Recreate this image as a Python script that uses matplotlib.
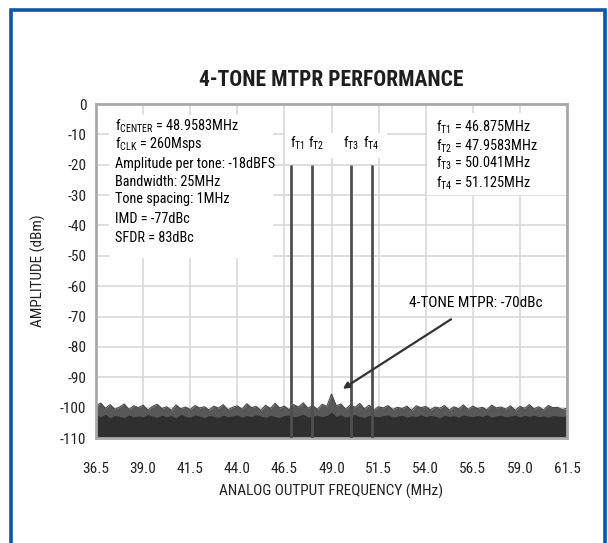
import numpy as np
import matplotlib
matplotlib.use("Agg")
import matplotlib.pyplot as plt
from matplotlib.patches import Rectangle
from matplotlib import font_manager

# ---------------- data ----------------
tone_freqs = [46.875, 47.9583, 50.041, 51.125]      # MHz
tone_levels = [-20, -20, -20, -20]                  # dBm
tone_names = ["T1", "T2", "T3", "T4"]

noise_start = 36.5
noise_step = 0.25
noise_upper = [-99.5, -98.5, -100.2, -99.0, -100.5, -99.8, -98.8, -100.6, -99.4, -100.0,
               -99.2, -100.8, -99.6, -98.9, -100.3, -99.7, -100.9, -99.1, -100.4, -99.8,
               -100.6, -99.3, -100.1, -99.7, -100.8, -99.5, -100.2, -99.0, -100.7, -99.9,
               -99.4, -100.5, -98.7, -100.0, -99.6, -100.9, -99.2, -100.3, -98.6, -100.1,
               -99.5, -100.7, -99.0, -99.8, -98.4, -100.2, -99.3, -100.6, -98.9, -99.6,
               -95.5, -99.4, -98.8, -100.5, -99.1, -99.9, -98.6, -100.4, -99.2, -100.8,
               -99.7, -100.1, -99.3, -100.6, -99.9, -100.3, -99.5, -100.9, -99.4, -100.0,
               -99.6, -100.7, -99.8, -100.2, -99.3, -100.8, -99.7, -100.4, -99.1, -100.6,
               -99.5, -100.3, -99.9, -100.7, -99.2, -100.1, -99.8, -100.5, -99.4, -100.9,
               -99.6, -100.2, -99.0, -100.4, -99.7, -100.8, -99.3, -100.0, -99.9, -100.6, -100.2]
noise_core = [-102.5, -103.0, -102.2, -103.4, -102.6, -102.9, -103.3, -102.4, -103.1, -102.7,
              -103.0, -102.3, -102.8, -103.2, -102.5, -103.0, -102.6, -103.4, -102.2, -102.9,
              -103.1, -102.4, -102.8, -103.3, -102.6, -102.9, -103.2, -102.5, -103.0, -102.7,
              -102.4, -103.1, -102.6, -103.0, -102.3, -102.8, -103.2, -102.5, -102.9, -103.3,
              -102.6, -102.4, -103.0, -102.7, -102.2, -103.1, -102.8, -102.5, -103.0, -102.6,
              -101.5, -102.9, -102.4, -103.1, -102.7, -102.3, -102.9, -103.2, -102.5, -102.8,
              -103.0, -102.6, -102.4, -103.1, -102.8, -102.5, -103.2, -102.7, -102.9, -102.4,
              -103.0, -102.6, -102.8, -103.3, -102.5, -102.9, -102.7, -103.1, -102.4, -102.8,
              -103.0, -102.6, -102.9, -102.3, -103.2, -102.7, -102.5, -103.0, -102.8, -102.4,
              -103.1, -102.6, -102.9, -102.5, -103.0, -102.7, -103.2, -102.6, -102.8, -102.9, -102.7]

x_ticks = [36.5, 39.0, 41.5, 44.0, 46.5, 49.0, 51.5, 54.0, 56.5, 59.0, 61.5]
y_ticks = [0, -10, -20, -30, -40, -50, -60, -70, -80, -90, -100, -110]

info_lines = [r"f$_{\mathrm{CENTER}}$ = 48.9583MHz",
              r"f$_{\mathrm{CLK}}$ = 260Msps",
              "Amplitude per tone: -18dBFS",
              "Bandwidth: 25MHz",
              "Tone spacing: 1MHz",
              "IMD = -77dBc",
              "SFDR = 83dBc"]
tone_info = [r"f$_{\mathrm{T1}}$ = 46.875MHz",
             r"f$_{\mathrm{T2}}$ = 47.9583MHz",
             r"f$_{\mathrm{T3}}$ = 50.041MHz",
             r"f$_{\mathrm{T4}}$ = 51.125MHz"]

# ---------------- style ----------------
names = {f.name for f in font_manager.fontManager.ttflist}
candidates = ["Roboto Condensed", "Liberation Sans Narrow", "Arial Narrow",
              "Archivo Narrow", "PT Sans Narrow", "Pragati Narrow",
              "Fira Sans Condensed", "IBM Plex Sans Condensed",
              "Barlow Semi Condensed", "Encode Sans Condensed",
              "Asap Condensed", "Open Sans Condensed", "Roboto"]
narrow = next(c for c in candidates if c in names)
plt.rcParams["font.family"] = [narrow, "DejaVu Sans"]
plt.rcParams["mathtext.fontset"] = "custom"
plt.rcParams["mathtext.rm"] = narrow
plt.rcParams["mathtext.it"] = narrow
plt.rcParams["mathtext.bf"] = narrow + ":bold"

fig = plt.figure(figsize=(6.08, 5.43), dpi=100)
fig.patch.set_facecolor("white")

# blue frame
fig.patches.append(Rectangle((11 / 608, -0.05), (605 - 11) / 608, 1.05 - 10 / 543,
                             transform=fig.transFigure, fill=False,
                             edgecolor="#0a56a8", linewidth=2.6, clip_on=False))

ax = fig.add_axes([96 / 608, 1 - 438 / 543, (567 - 96) / 608, (438 - 104) / 543])
ax.set_xlim(36.5, 61.5)
ax.set_ylim(-110, 0)
ax.set_xticks(x_ticks)
ax.set_xticklabels([f"{v:.1f}" for v in x_ticks])
ax.set_yticks(y_ticks)
ax.set_yticklabels([f"{v}" for v in y_ticks])
ax.tick_params(length=0, labelsize=11, colors="#222222")
ax.tick_params(axis="x", pad=17)
ax.tick_params(axis="y", pad=7)
ax.grid(True, color="#d6d6d6", linewidth=1.1)
ax.set_axisbelow(True)
for s in ax.spines.values():
    s.set_color("#a8a8a8")
    s.set_linewidth(2.0)

# noise floor
freqs = noise_start + noise_step * np.arange(len(noise_upper))
ax.fill_between(freqs, -110, noise_upper, color="#585858", linewidth=0, zorder=2)
ax.plot(freqs, noise_upper, color="#484848", linewidth=0.8, zorder=2)
ax.fill_between(freqs, -110, noise_core, color="#2f2f2f", linewidth=0, zorder=2)

# tones
ax.vlines(tone_freqs, -110, tone_levels, color="#4f4f4f", linewidth=2.0, zorder=3)

# white boxes behind texts (axes-fraction layout)
box_kw = dict(facecolor="white", edgecolor="none", zorder=1.5, transform=ax.transAxes)
ax.add_patch(Rectangle(((109 - 96) / 471, 1 - (258 - 104) / 334), 164 / 471, 143 / 334, **box_kw))
ax.add_patch(Rectangle(((285 - 96) / 471, 1 - (158 - 104) / 334), 102 / 471, 25 / 334, **box_kw))
ax.add_patch(Rectangle(((427 - 96) / 471, 1 - (195 - 104) / 334), 140 / 471, 82 / 334, **box_kw))

fs = 10.3
info_y = [-8.6, -14.5, -21.1, -27.1, -32.7, -39.3, -45.6]
for t, yv in zip(info_lines, info_y):
    ax.text(37.5, yv, t, fontsize=fs, va="baseline", ha="left", zorder=4)

label_offsets = [0.3, 0.22, 0.0, 0.0]
for fq, off, nm in zip(tone_freqs, label_offsets, tone_names):
    ax.text(fq + off, -14.2, r"f$_{\mathrm{%s}}$" % nm, fontsize=fs, ha="center",
            va="baseline", zorder=4)

ti_y = [-9.1, -15.2, -21.1, -27.4]
for t, yv in zip(tone_info, ti_y):
    ax.text(54.55, yv, t, fontsize=fs, va="baseline", ha="left", zorder=4)

ax.annotate("4-TONE MTPR: -70dBc", xy=(49.6, -93.8), xytext=(56.65, -65.7),
            fontsize=11, ha="center", va="center", zorder=4,
            arrowprops=dict(arrowstyle="-|>", color="#333333", lw=1.6,
                            shrinkA=8, shrinkB=0, mutation_scale=9))

ax.set_title("4-TONE MTPR PERFORMANCE", fontsize=15.5, fontweight="bold",
             pad=13, color="#1e1e1e")
ax.set_xlabel("ANALOG OUTPUT FREQUENCY (MHz)", fontsize=11, labelpad=6,
              color="#222222")
ax.set_ylabel("AMPLITUDE (dBm)", fontsize=11, labelpad=10, color="#222222")

fig.savefig("out.png", dpi=100, facecolor="white")
